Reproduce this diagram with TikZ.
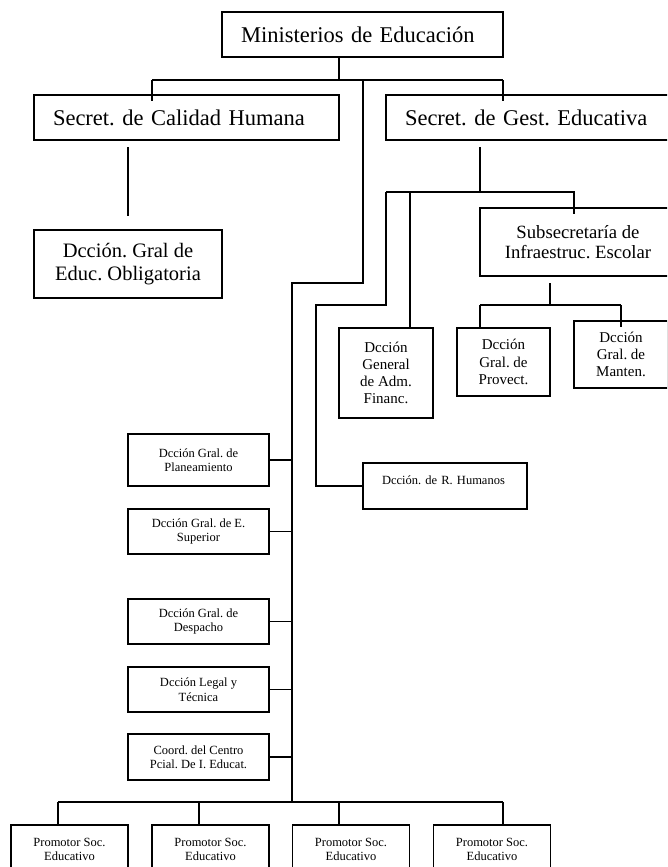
\documentclass[tikz,border=0pt]{standalone}
\usepackage{fontspec}
\setmainfont{Liberation Serif}
\frenchspacing
\begin{document}
\begin{tikzpicture}[x=1pt,y=-1pt,
  box/.style={draw, line width=1.7pt, inner sep=0pt, align=center},
  lbox/.style={box, align=left, inner xsep=19pt},
  conn/.style={line width=1.6pt},
  fbig/.style={font=\fontsize{22.5}{27}\selectfont},
  fmid/.style={font=\fontsize{20.5}{23.3}\selectfont},
  fsub/.style={font=\fontsize{18.7}{20.7}\selectfont},
  fsm/.style={font=\fontsize{15}{17.2}\selectfont},
  ftiny/.style={font=\fontsize{12.5}{14.5}\selectfont},
  colbox/.style={box, ftiny, minimum width=141pt},
  promo/.style={box, ftiny, minimum width=117pt, minimum height=49pt}
]
\useasboundingbox (0,0) rectangle (667,867);
\clip (0,0) rectangle (667,867);

% top level
\node[lbox, fbig, text width=243pt, minimum height=45pt] (min) at (362.5,34.5) {Ministerios de Educación};
\node[lbox, fbig, text width=267pt, minimum height=45pt] (cal) at (186.5,117.5) {Secret. de Calidad Humana};
\node[lbox, fbig, text width=267pt, minimum height=45pt] (gest) at (538.5,117.5) {Secret. de Gest. Educativa};

\node[box, fmid, minimum width=188pt, minimum height=68pt] (obl) at (128,264) {Dcción. Gral de\\Educ. Obligatoria};
\node[box, fsub, minimum width=196pt, minimum height=68pt] (sub) at (578,242) {Subsecretaría de\\Infraestruc. Escolar};

\node[box, fsm, minimum width=94pt, minimum height=90pt] (adm) at (386,373) {Dcción\\General\\de Adm.\\Financ.};
\node[box, fsm, minimum width=93pt, minimum height=68pt] (prov) at (503.5,362) {Dcción\\Gral. de\\Provect.};
\node[box, fsm, minimum width=94pt, minimum height=67pt] (man) at (621,354.5) {Dcción\\Gral. de\\Manten.};

\node[lbox, ftiny, text width=126pt, minimum height=46pt, text height=9pt, text depth=13pt] (rh) at (445,486) {Dcción. de R. Humanos};

% left column
\node[colbox, minimum height=52pt] (plan) at (198.5,460) {Dcción Gral. de\\Planeamiento};
\node[colbox, minimum height=45pt] (sup) at (198.5,531.5) {Dcción Gral. de E.\\Superior};
\node[colbox, minimum height=45pt] (desp) at (198.5,621.5) {Dcción Gral. de\\Despacho};
\node[colbox, minimum height=45pt] (leg) at (198.5,689.5) {Dcción Legal y\\Técnica};
\node[colbox, minimum height=46pt] (coord) at (198.5,757) {Coord. del Centro\\Pcial. De I. Educat.};

% promotores
\node[promo] (p1) at (69.5,849.5) {Promotor Soc.\\Educativo};
\node[promo] (p2) at (210.5,849.5) {Promotor Soc.\\Educativo};
\node[promo] (p3) at (351,849.5) {Promotor Soc.\\Educativo};
\node[promo] (p4) at (492,849.5) {Promotor Soc.\\Educativo};

% coordinates
\coordinate (bM) at (339,80);
\coordinate (bL) at (152,80);
\coordinate (bR) at (503,80);
\coordinate (bC) at (363,80);
\coordinate (k1) at (363,283);
\coordinate (sp) at (292,283);
\coordinate (spB) at (292,802);
\coordinate (pb1) at (58,802);
\coordinate (pb2) at (199,802);
\coordinate (pb3) at (339,802);
\coordinate (pb4) at (503,802);
\coordinate (cT) at (128,147);
\coordinate (cB) at (128,216);
\coordinate (gT) at (480,147);
\coordinate (gB) at (480,192);
\coordinate (g1) at (386,192);
\coordinate (g2) at (410,192);
\coordinate (g3) at (574,192);
\coordinate (h1) at (386,305);
\coordinate (h2) at (316,305);
\coordinate (sT) at (550,283);
\coordinate (sB) at (550,305);
\coordinate (s1) at (480,305);
\coordinate (s2) at (621,305);

% connectors
\draw[conn] (min.south -| bM) -- (bM);
\draw[conn] (bL) -- (bR);
\draw[conn] (bL) -- ([yshift=-7pt]cal.north -| bL);
\draw[conn] (bR) -- ([yshift=-7pt]gest.north -| bR);
\draw[conn] (bC) -- (k1) -- (sp) -- (spB);
\draw[conn] (cT) -- (cB);
\draw[conn] (gT) -- (gB);
\draw[conn] (g1) -- (g3) -- ([yshift=-7pt]sub.north -| g3);
\draw[conn] (g2) -- (g2 |- adm.north);
\draw[conn] (g1) -- (h1) -- (h2) -- (h2 |- rh.west) -- (rh.west);
\draw[conn] (sT) -- (sB);
\draw[conn] (s1) -- (s2);
\draw[conn] (s1) -- (s1 |- prov.north);
\draw[conn] (s2) -- ([yshift=-7pt]man.north -| s2);
\foreach \n in {plan,sup,desp,leg,coord}
  \draw[conn] (\n.east) -- (\n.east -| sp);
\draw[conn] (pb1) -- (pb4);
\draw[conn] (pb1) -- (pb1 |- p1.north);
\draw[conn] (pb2) -- (pb2 |- p2.north);
\draw[conn] (pb3) -- (pb3 |- p3.north);
\draw[conn] (pb4) -- (pb4 |- p4.north);
\end{tikzpicture}
\end{document}
